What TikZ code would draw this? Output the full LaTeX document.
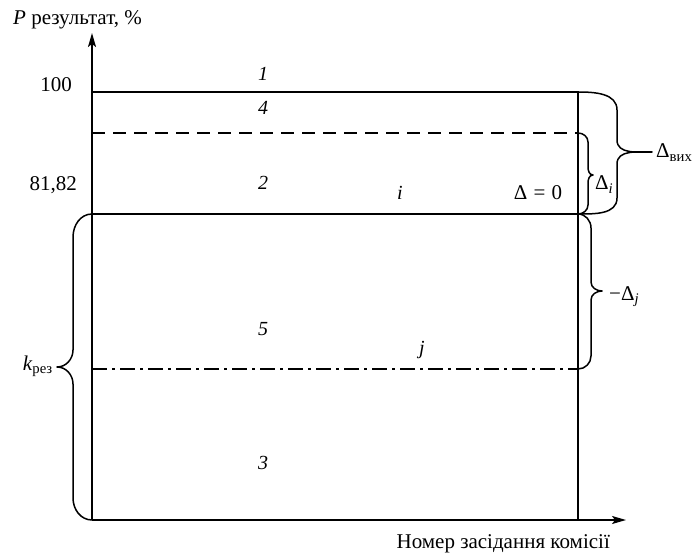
\documentclass[tikz,border=0pt]{standalone}
\usepackage{fontspec}
\setmainfont{Liberation Serif}
\usetikzlibrary{arrows.meta,positioning,calc}

\begin{document}
\begin{tikzpicture}[
    x=1pt, y=-1pt,
    font=\fontsize{21}{24}\selectfont,
    axisline/.style={line width=1.5pt, -{Stealth[length=14pt,width=8pt,inset=3pt]}},
    levelline/.style={line width=1.5pt},
    bracepath/.style={line width=1.5pt, line join=round},
    zonelabel/.style={inner sep=0pt, font=\fontsize{20}{24}\selectfont\itshape},
    txt/.style={inner sep=0pt}
]
\useasboundingbox (0,0) rectangle (696,556);

% axes
\coordinate (O) at (92,520);
\coordinate (ytip) at (92,33);
\coordinate (xtip) at (626,520);
\draw[axisline] (O) -- (ytip);
\draw[axisline] (O) -- (xtip);
\node[txt, anchor=base west] (ylab) at (13,25) {\textit{P} результат, \%};
\node[txt, anchor=base east] (xlab) at (610,548) {Номер засідання комісії};

% levels
\coordinate (l100) at (92,92);   \coordinate (r100) at (578,92);
\coordinate (l4) at (92,133);    \coordinate (r4) at (578,133);
\coordinate (l82) at (92,214);   \coordinate (r82) at (578,214);
\coordinate (lj) at (92,369);    \coordinate (rj) at (578,369);
\coordinate (r0) at (578,520);
\draw[levelline] (l100) -- (r100) -- (r0);
\draw[levelline, dash pattern=on 13pt off 8pt] (l4) -- (r4);
\draw[levelline] (l82) -- (r82);
\draw[levelline, dash pattern=on 15pt off 5pt on 3pt off 5pt] (lj) -- (rj);

\node[txt, anchor=base east] (v100) at (72,92) {100};
\node[txt, anchor=base east] (v82) at (77,191) {81,82};

% zones
\node[zonelabel] (z1) at (263,74) {1};
\node[zonelabel] (z4) at (263,108) {4};
\node[zonelabel] (z2) at (263,183) {2};
\node[zonelabel] (z5) at (263,329) {5};
\node[zonelabel] (z3) at (263,463) {3};
\node[zonelabel] (ii) at (400,193) {i};
\node[zonelabel] (jj) at (422,350) {j};
\node[txt] (d0) at (538,193) {Δ\hspace{0.3em}=\hspace{0.3em}0};

% braces
\coordinate (tvyh) at (652,152);
\draw[bracepath] (r100) to[out=0,in=90] (617,110) -- (617,140)
    to[out=-90,in=180] (tvyh) to[out=180,in=90] (617,164) -- (617,198)
    to[out=-90,in=0] (r82);
\node[txt, anchor=base west] (dvyh) at (656,158) {Δ\textsubscript{вих}};

\coordinate (ti) at (593,175);
\draw[bracepath] (r4) to[out=0,in=90] (588,142) -- (588,167)
    to[out=-90,in=180] (ti) to[out=180,in=90] (588,183) -- (588,205)
    to[out=-90,in=0] (r82);
\node[txt, anchor=base west] (di) at (595,190) {Δ\textsubscript{\textit{i}}};

\coordinate (tj) at (602,291);
\draw[bracepath] (r82) to[out=0,in=90] (591,228) -- (591,282)
    to[out=-90,in=180] (tj) to[out=180,in=90] (591,300) -- (591,356)
    to[out=-90,in=0] (rj);
\node[txt, anchor=base west] (dj) at (609,300) {−Δ\textsubscript{\textit{j}}};

\coordinate (tk) at (57,367);
\draw[bracepath] (l82) to[out=180,in=90] (73,237) -- (73,350)
    to[out=-90,in=0] (tk) to[out=0,in=90] (73,384) -- (73,498)
    to[out=-90,in=180] (O);
\node[txt, anchor=base east] (kres) at (53,370) {\textit{k}\textsubscript{рез}};
\end{tikzpicture}
\end{document}
